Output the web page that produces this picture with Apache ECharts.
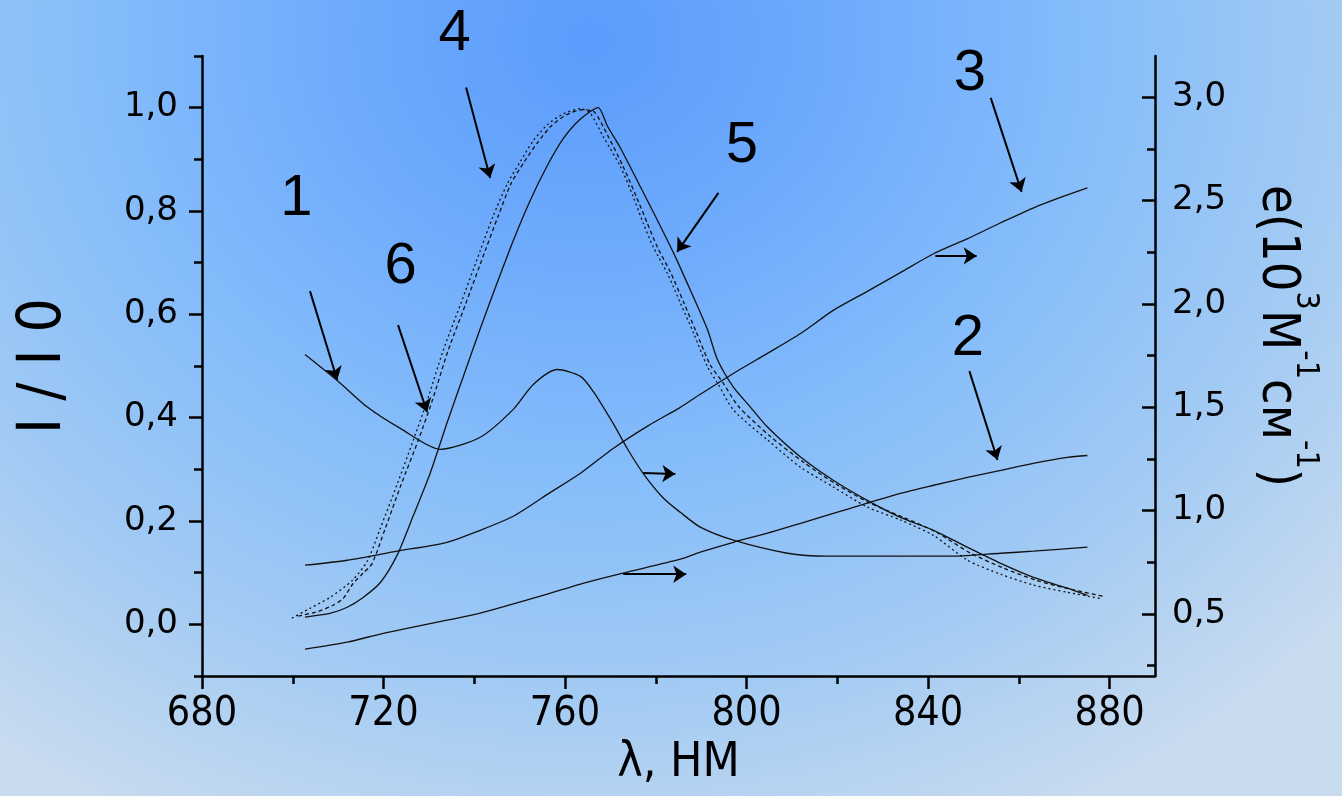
<!DOCTYPE html>
<html lang="ru">
<head>
<meta charset="UTF-8">
<title>I/I0 и e от λ</title>
<script src="https://cdn.jsdelivr.net/npm/echarts@6/dist/echarts.min.js"></script>
<style>
  html, body { margin: 0; padding: 0; }
  body {
    width: 1342px; height: 796px; overflow: hidden;
    background: radial-gradient(ellipse 75% 110% at 44% 5%, #5b9cfd 0%, #6eabfc 25%, #86bdfa 50%, #a3cbf3 75%, #c9dbef 100%);
  }
  #chart { width: 1342px; height: 796px; }
</style>
</head>
<body>
<div id="chart"></div>
<script>
// ось λ, нм
const xMajor = [680, 720, 760, 800, 840, 880];
const xMinor = [700, 740, 780, 820, 860];
// левая ось I/I0
const leftMajor = [0, 0.2, 0.4, 0.6, 0.8, 1.0];
const leftMinor = [-0.1, 0.1, 0.3, 0.5, 0.7, 0.9, 1.1];
// правая ось e
const rightMajor = [0.5, 1.0, 1.5, 2.0, 2.5, 3.0];
const rightMinor = [0.25, 0.75, 1.25, 1.75, 2.25, 2.75];

// кривые 1-3 (правая ось), [λ, e]
const curve1 = [[702.7,1.756],[709.8,1.630],[716.5,1.500],[723.7,1.398],[732.5,1.297],[741.3,1.355],[748.6,1.490],[753.0,1.611],[758.3,1.683],[763.4,1.650],[766.2,1.577],[770.6,1.422],[773.7,1.301],[777.2,1.181],[781.7,1.060],[785.4,0.992],[789.8,0.920],[797.1,0.857],[809.0,0.794],[817.8,0.780],[845.6,0.780],[856.0,0.794],[863.2,0.804],[875.1,0.824]];
const curve2 = [[702.7,0.330],[712.0,0.364],[719.3,0.403],[726.5,0.437],[734.0,0.470],[741.3,0.504],[756.1,0.596],[763.4,0.645],[772.8,0.698],[785.4,0.765],[789.8,0.799],[797.1,0.847],[804.6,0.891],[811.9,0.939],[819.1,0.987],[826.6,1.036],[833.9,1.084],[841.2,1.123],[848.7,1.161],[856.0,1.195],[863.2,1.229],[870.7,1.258],[875.1,1.267]];
const curve3 = [[702.7,0.736],[712.0,0.760],[723.0,0.804],[734.0,0.847],[741.3,0.905],[748.6,0.973],[756.1,1.079],[763.4,1.181],[770.6,1.301],[778.1,1.408],[785.4,1.500],[789.8,1.563],[797.1,1.664],[804.6,1.761],[811.9,1.857],[819.1,1.969],[826.5,2.060],[833.9,2.152],[841.2,2.243],[848.7,2.316],[856.0,2.393],[864.8,2.480],[875.1,2.562]];

// кривые 4-6 (левая ось), [λ, I/I0]
const curve4 = [[699.8,0.012],[703.8,0.031],[708.2,0.052],[713.1,0.085],[716.4,0.122],[719.3,0.186],[723.0,0.271],[726.5,0.355],[729.6,0.432],[733.1,0.529],[736.9,0.618],[741.3,0.723],[744.2,0.791],[747.3,0.853],[750.1,0.895],[753.0,0.936],[756.1,0.967],[759.6,0.988],[763.4,0.998],[765.5,0.990],[768.4,0.944],[772.2,0.886],[775.0,0.828],[777.2,0.777],[779.4,0.731],[782.5,0.680],[785.4,0.622],[788.3,0.564],[791.4,0.498],[793.6,0.467],[797.1,0.415],[804.6,0.357],[811.9,0.304],[819.1,0.266],[826.6,0.227],[833.9,0.202],[841.2,0.172],[848.7,0.124],[856.0,0.097],[863.2,0.076],[870.7,0.062],[878.0,0.050]];
const curve5 = [[702.7,0.014],[708.2,0.021],[712.0,0.033],[715.5,0.052],[719.3,0.081],[723.0,0.134],[726.5,0.209],[730.3,0.293],[734.0,0.390],[737.6,0.480],[741.3,0.572],[745.0,0.660],[748.6,0.743],[752.3,0.820],[756.1,0.888],[759.6,0.940],[763.4,0.978],[767.3,1.000],[769.3,0.965],[772.2,0.922],[776.6,0.847],[780.3,0.783],[783.9,0.719],[787.6,0.647],[791.4,0.570],[793.6,0.512],[797.1,0.459],[800.8,0.421],[804.6,0.382],[811.9,0.324],[819.1,0.279],[826.6,0.240],[833.9,0.207],[841.2,0.182],[848.7,0.149],[856.0,0.118],[863.2,0.091],[870.7,0.070],[875.1,0.056]];
const curve6 = [[701.2,0.016],[705.6,0.025],[708.9,0.037],[711.1,0.050],[713.3,0.079],[715.5,0.099],[717.5,0.118],[720.4,0.186],[723.9,0.271],[727.6,0.355],[730.7,0.432],[734.2,0.529],[738.0,0.618],[742.4,0.723],[745.3,0.791],[748.1,0.853],[751.0,0.895],[753.9,0.932],[757.0,0.965],[760.3,0.986],[763.8,0.996],[766.4,0.992],[769.3,0.948],[772.8,0.886],[775.7,0.828],[778.1,0.777],[780.3,0.731],[783.2,0.682],[786.1,0.624],[788.9,0.566],[792.0,0.502],[794.7,0.469],[798.2,0.422],[805.2,0.364],[812.5,0.314],[819.8,0.271],[827.3,0.234],[834.6,0.207],[841.9,0.178],[849.3,0.138],[856.6,0.109],[863.9,0.085],[871.4,0.068],[878.7,0.054]];

// подписи кривых и стрелки (в координатах λ, I/I0)
const curveNames = [['1',700.9,0.822],['2',848.9,0.552],['3',849.3,1.064],['4',735.8,1.141],['5',799.1,0.924],['6',723.9,0.690]];
const arrows = [
  [[703.8,0.645],[709.8,0.473]],
  [[723.2,0.579],[729.6,0.411]],
  [[738.2,1.039],[743.5,0.864]],
  [[793.8,0.835],[784.7,0.721]],
  [[853.8,1.019],[860.6,0.837]],
  [[849.1,0.490],[855.3,0.318]],
  [[841.6,0.713],[850.7,0.713]],
  [[777.2,0.293],[784.3,0.291]],
  [[772.8,0.097],[786.7,0.097]]
];

const comma = v => v.toFixed(1).replace('.', ',');
const black = '#000';
const narrow = "'Liberation Sans Narrow', 'DejaVu Sans Condensed', 'Liberation Sans', sans-serif";

function curve(data, axis, type) {
  return {
    type: 'line', data: data, yAxisIndex: axis, showSymbol: false, smooth: 0.25,
    lineStyle: { color: '#111', width: 1.3, type: type || 'solid' },
    silent: true, animation: false
  };
}

const chart = echarts.init(document.getElementById('chart'), null, { renderer: 'canvas' });
chart.setOption({
  backgroundColor: 'transparent',
  animation: false,
  grid: { left: 202, right: 187, top: 56, bottom: 120 },
  xAxis: [{
    type: 'value', min: 680, max: 890, position: 'bottom',
    axisLine: { show: true, onZero: false, lineStyle: { color: black, width: 2.5 } },
    axisTick: { show: true, customValues: xMajor, length: 13, lineStyle: { color: black, width: 2.5 } },
    axisLabel: { customValues: xMajor, margin: 18, color: black, fontSize: 41, fontFamily: narrow },
    splitLine: { show: false },
    name: 'λ, НМ', nameLocation: 'middle', nameGap: 58,
    nameTextStyle: { color: black, fontSize: 48, fontFamily: narrow }
  }, {
    type: 'value', min: 680, max: 890, position: 'bottom',
    axisLine: { show: true, onZero: false, lineStyle: { color: black, width: 2.5, opacity: 0 } },
    axisTick: { show: true, customValues: xMinor, length: 8, lineStyle: { color: black, width: 2.5 } },
    axisLabel: { show: false }, splitLine: { show: false }
  }],
  yAxis: [{
    type: 'value', min: -0.1, max: 1.1, position: 'left',
    axisLine: { show: true, onZero: false, lineStyle: { color: black, width: 2.5 } },
    axisTick: { show: true, customValues: leftMajor, length: 13, lineStyle: { color: black, width: 2.5 } },
    axisLabel: { customValues: leftMajor, formatter: comma, margin: 24, color: black, fontSize: 34, fontFamily: 'DejaVu Sans' },
    splitLine: { show: false },
    name: 'I / I 0', nameLocation: 'middle', nameGap: 128,
    nameTextStyle: { color: black, fontSize: 60, fontFamily: narrow }
  }, {
    type: 'value', min: 0.2, max: 3.2, position: 'right',
    axisLine: { show: true, onZero: false, lineStyle: { color: black, width: 2.5 } },
    axisTick: { show: true, inside: true, customValues: rightMajor, length: 13, lineStyle: { color: black, width: 2.5 } },
    axisLabel: { customValues: rightMajor, formatter: comma, margin: 17, color: black, fontSize: 34, fontFamily: 'DejaVu Sans' },
    splitLine: { show: false },
    name: '{b|e(10}{s|3}{b|M}{s|-1}{b|cм}{s|-1}{b|)}', nameLocation: 'middle', nameGap: 96, nameRotate: -90,
    nameTextStyle: {
      color: black, padding: [0, 60, 0, 0],
      rich: {
        b: { fontSize: 52, lineHeight: 70, verticalAlign: 'bottom', fontFamily: narrow, color: black },
        s: { fontSize: 32, lineHeight: 70, verticalAlign: 'top', fontFamily: narrow, color: black }
      }
    }
  }, {
    type: 'value', min: -0.1, max: 1.1, position: 'left',
    axisLine: { show: false },
    axisTick: { show: true, customValues: leftMinor, length: 8, lineStyle: { color: black, width: 2.5 } },
    axisLabel: { show: false }, splitLine: { show: false }
  }, {
    type: 'value', min: 0.2, max: 3.2, position: 'right',
    axisLine: { show: false },
    axisTick: { show: true, inside: true, customValues: rightMinor, length: 8, lineStyle: { color: black, width: 2.5 } },
    axisLabel: { show: false }, splitLine: { show: false }
  }],
  series: [
    curve(curve1, 1),
    curve(curve2, 1),
    curve(curve3, 1),
    curve(curve4, 0, [2, 3]),
    curve(curve5, 0),
    curve(curve6, 0, [4, 3]),
    {
      type: 'lines', coordinateSystem: 'cartesian2d', xAxisIndex: 0, yAxisIndex: 0,
      data: arrows.map(a => ({ coords: a })),
      symbol: ['none', 'arrow'], symbolSize: 13,
      lineStyle: { color: black, width: 2, opacity: 1, curveness: 0 },
      silent: true, animation: false
    },
    {
      type: 'scatter', yAxisIndex: 0, clip: false, symbolSize: 1,
      itemStyle: { color: 'transparent', opacity: 1 },
      data: curveNames.map(c => ({ value: [c[1], c[2]], name: c[0] })),
      label: {
        show: true, position: [0, 0], align: 'center', verticalAlign: 'middle',
        formatter: p => p.name, color: black, textBorderWidth: 0,
        fontSize: 58, fontFamily: "'Liberation Sans', Arial, sans-serif"
      },
      labelLayout: { hideOverlap: false },
      silent: true, animation: false
    }
  ]
});
</script>
</body>
</html>
